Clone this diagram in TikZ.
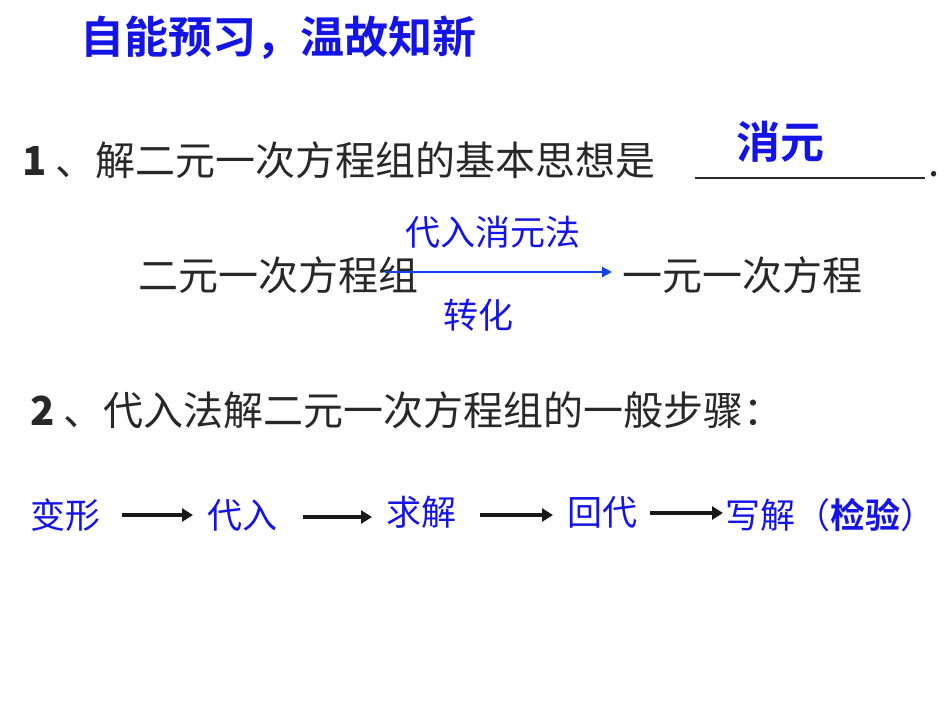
\documentclass[tikz,border=0pt]{standalone}
\usepackage{fontspec}
\newfontfamily\cjk{Noto Sans CJK SC}
\newfontfamily\cjkb{Noto Sans CJK SC Bold}
\usetikzlibrary{arrows.meta}
\definecolor{tblue}{RGB}{20,20,230}
\definecolor{txt}{RGB}{40,40,40}
\tikzset{
 t/.style={inner sep=0pt,anchor=west,text=txt,font=\cjk\fontsize{40}{40}\selectfont},
 b/.style={inner sep=0pt,text=tblue,font=\cjk\fontsize{35}{35}\selectfont},
 stepar/.style={line width=3.5pt,-{Triangle[length=11pt,width=13pt]},black!90}
}
\begin{document}
\begin{tikzpicture}[x=1pt,y=-1pt]
\path[use as bounding box] (0,0) rectangle (950,713);
\node[inner sep=0pt,text=tblue,font=\cjkb\fontsize{44}{44}\selectfont] (title) at (278,38) {自能预习，温故知新};
\node[t] (q1) at (22,160) {{\bfseries 1} 、解二元一次方程组的基本思想是};
\draw[txt,line width=1.5pt] (695,178) -- (925,178);
\node[t,anchor=base west] (dot) at (928,176) {.};
\node[inner sep=0pt,text=tblue,font=\cjkb\fontsize{44}{44}\selectfont] (ans) at (780,142) {消元};
\node[t] (s1) at (138,275) {二元一次方程组};
\node[t] (s2) at (622,275) {一元一次方程};
\coordinate (a1) at (385,272);
\coordinate (a2) at (612,272);
\draw[tblue!80!cyan,line width=2.5pt,-{Triangle[length=10pt,width=10pt]}] (a1) -- (a2);
\node[b] (m1) at (493,232) {代入消元法};
\node[b] (m2) at (478,315) {转化};
\node[t] (q2) at (30,410) {{\bfseries 2} 、代入法解二元一次方程组的一般步骤：};
\node[b,anchor=west] (p1) at (30,515) {变形};
\node[b,anchor=west] (p2) at (207,515) {代入};
\node[b,anchor=west] (p3) at (386,512) {求解};
\node[b,anchor=west] (p4) at (567,512) {回代};
\node[b,anchor=west] (p5) at (725,515) {写解（{\cjkb 检验}）};
\draw[stepar] (122,515) -- ([xshift=-14pt]p2.west |- 0,515);
\draw[stepar] (303,517) -- ([xshift=-14pt]p3.west |- 0,517);
\draw[stepar] (480,515) -- ([xshift=-14pt]p4.west |- 0,515);
\draw[stepar] (650,513) -- ([xshift=-2pt]p5.west |- 0,513);
\end{tikzpicture}
\end{document}
